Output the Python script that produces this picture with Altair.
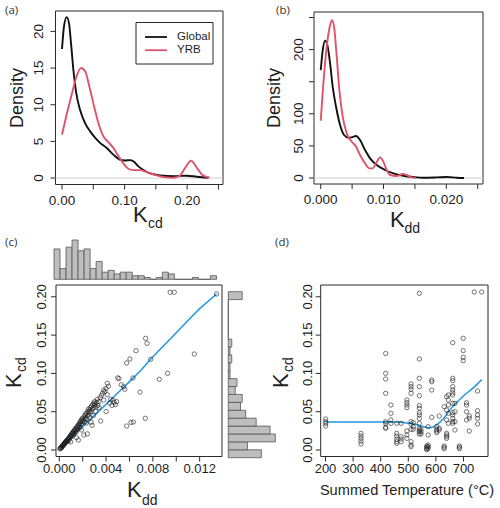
import altair as alt
import pandas as pd

W, H = 500, 508
FONT = "Liberation Sans"
INK = "#2b2b2b"
TXT = "#1e1e1e"
RED = "#DF536B"
BLUE = "#2297E6"
BAR_FILL = "#BEBEBE"
BAR_LINE = "#555555"

# ---------------- (a) kernel densities of Kcd ----------------
a_x_global = [0.0, 0.0032, 0.0075, 0.0112, 0.0144, 0.0181, 0.0224, 0.0288, 0.0368, 0.0448,
              0.0528, 0.0608, 0.0715, 0.0821, 0.0928, 0.1008, 0.1088, 0.1141, 0.1221, 0.1301,
              0.1408, 0.1568, 0.1781, 0.1995, 0.2155, 0.2341]
a_d_global = [17.6, 20.7, 21.95, 21.1, 18.4, 14.8, 11.8, 9.3, 7.5, 6.4,
              5.5, 4.8, 4.1, 3.2, 2.5, 2.4, 2.45, 2.3, 1.6, 1.1,
              0.63, 0.36, 0.27, 0.32, 0.18, 0.05]
a_x_yrb = [0.0, 0.0075, 0.0155, 0.0224, 0.0304, 0.0368, 0.0437, 0.0512, 0.0581, 0.0661,
           0.0741, 0.0821, 0.0901, 0.0981, 0.1061, 0.1141, 0.1248, 0.1355, 0.1461, 0.1568,
           0.1675, 0.1781, 0.1888, 0.1968, 0.2064, 0.2155, 0.2235, 0.2357]
a_d_yrb = [5.9, 8.7, 11.4, 13.65, 15.0, 14.6, 12.5, 9.8, 7.5, 5.7,
           4.9, 4.1, 3.0, 2.0, 1.27, 1.09, 1.09, 0.82, 0.5, 0.23,
           0.09, 0.05, 0.36, 1.4, 2.36, 1.4, 0.5, 0.05]

# ---------------- (b) kernel densities of Kdd ----------------
b_x_global = [0.0, 0.00032, 0.00069, 0.00106, 0.00149, 0.00191, 0.00244, 0.00308, 0.00372, 0.00441,
              0.00494, 0.00563, 0.00626, 0.00706, 0.00786, 0.00892, 0.01024, 0.01157, 0.01316, 0.01476,
              0.01635, 0.01847, 0.02006, 0.02166, 0.02282]
b_d_global = [168, 199, 214, 207, 179, 142, 111, 82.6, 67, 62.8,
              63.3, 65.4, 59.2, 43.6, 30.6, 20.2, 12.5, 7.3, 3.6, 1.6,
              0.5, 1.0, 1.6, 0.5, 0.0]
b_x_yrb = [0.0, 0.00042, 0.00096, 0.00149, 0.0018, 0.00212, 0.00255, 0.00297, 0.0035, 0.00414,
           0.00494, 0.00563, 0.00626, 0.00706, 0.00775, 0.00828, 0.00881, 0.00945, 0.00998, 0.01051,
           0.01104, 0.0121, 0.01306, 0.01369, 0.01449, 0.01513]
b_d_yrb = [89.3, 147, 204.6, 238, 246, 236, 189, 137, 95.5, 69.6,
           56.6, 48.8, 35.8, 22.8, 15, 15, 22.8, 32.2, 25.4, 12.5,
           4.7, 3.1, 6.2, 4.7, 1.0, 0.0]

# ---------------- (c) Kcd against Kdd ----------------
c_kdd = [0.00005, 0.0001, 0.00012, 0.00015, 0.0002, 0.00022, 0.00025, 0.0003, 0.00032, 0.00035,
         0.0004, 0.00042, 0.00045, 0.0005, 0.00048, 0.00055, 0.0006, 0.00062, 0.00065, 0.0007,
         0.00072, 0.00075, 0.0008, 0.00082, 0.00085, 0.0009, 0.00092, 0.00095, 0.001, 0.00098,
         0.00102, 0.00105, 0.0011, 0.00112, 0.00115, 0.0012, 0.00122, 0.00125, 0.0013, 0.00132,
         0.00135, 0.0014, 0.00142, 0.00145, 0.0015, 0.00148, 0.00155, 0.00158, 0.0016, 0.00163,
         0.00165, 0.0017, 0.00172, 0.00175, 0.0018, 0.00182, 0.00185, 0.0019, 0.00192, 0.00195,
         0.002, 0.0019, 0.00205, 0.0021, 0.00212, 0.00215, 0.0022, 0.00222, 0.00225, 0.0023,
         0.00232, 0.00235, 0.0024, 0.00242, 0.00245, 0.0025, 0.00248, 0.00255, 0.0026, 0.00262,
         0.00265, 0.0027, 0.00272, 0.00275, 0.0028, 0.0028, 0.00285, 0.0029, 0.00292, 0.00295,
         0.003, 0.00302, 0.00305, 0.0031, 0.00315, 0.0032, 0.00325, 0.0033, 0.0034, 0.0035,
         0.00354, 0.0034, 0.0036, 0.0037, 0.0038, 0.0038, 0.0039, 0.004, 0.004, 0.0041,
         0.0042, 0.0043, 0.0044, 0.0045, 0.0046, 0.0047, 0.0048, 0.0049, 0.005, 0.0051,
         0.0053, 0.0055, 0.0056, 0.0041, 0.00576, 0.00613, 0.00633, 0.00735, 0.0069, 0.0063,
         0.00576, 0.00604, 0.00656, 0.00738, 0.0075, 0.00781, 0.00855, 0.00926, 0.01154, 0.00948,
         0.00983, 0.01345]
c_kcd = [0.0015, 0.002, 0.003, 0.0025, 0.004, 0.0035, 0.005, 0.0055, 0.0062, 0.0068,
         0.0072, 0.008, 0.0085, 0.009, 0.0098, 0.0105, 0.011, 0.0118, 0.0125, 0.0112,
         0.0138, 0.0142, 0.015, 0.0122, 0.0162, 0.0158, 0.0178, 0.0185, 0.0172, 0.0105,
         0.0195, 0.0208, 0.0182, 0.0225, 0.0218, 0.0235, 0.02, 0.0248, 0.0255, 0.0222,
         0.0272, 0.0262, 0.0285, 0.0238, 0.0295, 0.016, 0.0312, 0.0272, 0.0302, 0.013,
         0.0332, 0.0322, 0.0352, 0.0292, 0.0365, 0.0335, 0.0382, 0.0345, 0.0402, 0.0372,
         0.0415, 0.0262, 0.0392, 0.0196, 0.0432, 0.0372, 0.0452, 0.0412, 0.0472, 0.0402,
         0.0352, 0.0482, 0.021, 0.0442, 0.0502, 0.0462, 0.0532, 0.0492, 0.0522, 0.0422,
         0.0552, 0.0502, 0.0362, 0.0572, 0.0532, 0.0322, 0.0592, 0.0552, 0.0452, 0.0612,
         0.0582, 0.0632, 0.0602, 0.0502, 0.0562, 0.0622, 0.0662, 0.0582, 0.0632, 0.0682,
         0.0379, 0.0552, 0.0712, 0.0742, 0.0782, 0.0652, 0.0762, 0.0802, 0.0502, 0.0722,
         0.0832, 0.0612, 0.0662, 0.0582, 0.0652, 0.0622, 0.0592, 0.0632, 0.0942, 0.0932,
         0.0852, 0.0826, 0.0792, 0.0872, 0.0313, 0.036, 0.0365, 0.0414, 0.0755, 0.094,
         0.1136, 0.1188, 0.1297, 0.1458, 0.1393, 0.1184, 0.0923, 0.1001, 0.1253, 0.2059,
         0.2059, 0.2037]
c_fit_kdd = [0.0001, 0.001, 0.002, 0.003, 0.004, 0.005, 0.006, 0.007, 0.0078, 0.009,
             0.010, 0.011, 0.012, 0.01345]
c_fit_kcd = [0.002, 0.0158, 0.0305, 0.0452, 0.0598, 0.0745, 0.0893, 0.1045, 0.1184, 0.1375,
             0.153, 0.169, 0.1845, 0.2037]

# marginal histograms (counts per bin)
kdd_bin_width = 0.0005
kdd_counts = [17, 6, 18, 22, 16, 17, 6, 10, 4, 5, 3, 4, 4, 2, 2, 1, 0, 1, 4, 3, 0, 0, 0, 1, 0, 0, 2]
kcd_bin_width = 0.01
kcd_counts = [19, 11, 27, 24, 16, 10, 7, 8, 4, 5, 1, 1, 2, 1, 2, 0, 0, 0, 0, 0, 8]

# ---------------- (d) Kcd against summed temperature ----------------
d_temp = ([200.6] * 4 + [328.6] * 5 + [418] * 8 + [437] * 4 + [458] * 6 + [474] * 4 +
          [495] * 7 + [510] * 10 + [518] * 3 + [540] * 15 + [546] * 3 + [567] * 4 +
          [572] * 5 + [585] * 4 + [603] * 4 + [612] * 3 + [630] * 4 + [639] * 7 +
          [645] * 5 + [661] * 13 + [669] * 4 + [685] * 3 + [699] * 4 + [711] * 4 +
          [721] * 3 + [739] + [751] * 5 + [766])
d_kcd = [0.0405, 0.037, 0.0348, 0.0313,
         0.0218, 0.0183, 0.0152, 0.0117, 0.0078,
         0.126, 0.1001, 0.0927, 0.074, 0.037, 0.0348, 0.0296, 0.0283,
         0.0587, 0.0479, 0.0392, 0.0348,
         0.0218, 0.0183, 0.014, 0.0109, 0.0087, 0.0348,
         0.0348, 0.0174, 0.0144, 0.0109,
         0.0653, 0.0618, 0.0587, 0.0553, 0.0248, 0.0196, 0.0152,
         0.0862, 0.0827, 0.0792, 0.074, 0.037, 0.0335, 0.027, 0.0109, 0.0065, 0.0044,
         0.0357, 0.0305, 0.027,
         0.2045, 0.1188, 0.0936, 0.0827, 0.0709, 0.0579, 0.0544, 0.0487, 0.0457, 0.0413,
         0.0348, 0.0283, 0.0261, 0.0239, 0.0209,
         0.027, 0.0239, 0.0209,
         0.0052, 0.0035, 0.0017, 0.0005,
         0.0305, 0.0196, 0.0065, 0.0044, 0.0022,
         0.0914, 0.0892, 0.0783, 0.0426,
         0.0305, 0.027, 0.0248, 0.0226,
         0.0444, 0.0283, 0.0261,
         0.0566, 0.0052, 0.0035, 0.0017,
         0.0696, 0.0522, 0.0392, 0.0218, 0.0196, 0.0174, 0.0152,
         0.0718, 0.0653, 0.0587, 0.0479, 0.0348,
         0.1401, 0.0936, 0.0905, 0.0827, 0.0783, 0.0748, 0.0718, 0.0609, 0.0487, 0.0457,
         0.0413, 0.037, 0.0348,
         0.0609, 0.05, 0.037, 0.0261,
         0.0052, 0.0035, 0.0017,
         0.1458, 0.1297, 0.121, 0.1166,
         0.0618, 0.0587, 0.05, 0.0392,
         0.0444, 0.0413, 0.0248,
         0.2063,
         0.077, 0.0513, 0.0457, 0.0413, 0.0339,
         0.2063]
d_fit_temp = [200.6, 250, 300, 350, 400, 450, 475, 500, 525, 550, 575, 590, 600, 625, 650,
              675, 700, 725, 750, 766]
d_fit_kcd = [0.0366, 0.0366, 0.0366, 0.0366, 0.0366, 0.0365, 0.0362, 0.035, 0.0335, 0.031,
             0.029, 0.030, 0.032, 0.040, 0.052, 0.062, 0.0705, 0.078, 0.086, 0.092]

# ---------------- tick values and their labels ----------------
a_xticks = [0, 0.05, 0.1, 0.15, 0.2, 0.25]
a_xlabels = ["0.00", "", "0.10", "", "0.20", ""]
a_yticks = [0, 5, 10, 15, 20]
a_ylabels = ["0", "5", "10", "15", "20"]
b_xticks = [0, 0.005, 0.01, 0.015, 0.02, 0.025]
b_xlabels = ["0.000", "", "0.010", "", "0.020", ""]
b_yticks = [0, 50, 100, 150, 200, 250]
b_ylabels = ["0", "50", "100", "", "200", ""]
c_xticks = [0, 0.002, 0.004, 0.006, 0.008, 0.01, 0.012]
c_xlabels = ["0.000", "", "0.004", "", "0.008", "", "0.012"]
kcd_ticks = [0, 0.05, 0.1, 0.15, 0.2]
kcd_labels = ["0.00", "0.05", "0.10", "0.15", "0.20"]
d_xticks = [200, 300, 400, 500, 600, 700]
d_xlabels = ["200", "300", "400", "500", "600", "700"]

series_names = ["Global", "YRB"]
color_scale = alt.Scale(domain=series_names, range=["#111111", RED])


def sc(domain, rng):
    return alt.Scale(domain=domain, range=rng, nice=False, zero=False)


def frame(xd, yd, sx, sy):
    df = pd.DataFrame({"x0": [xd[0]], "x1": [xd[1]], "y0": [yd[0]], "y1": [yd[1]]})
    return alt.Chart(df).mark_rect(filled=False, stroke=INK, strokeWidth=1).encode(
        x=alt.X("x0:Q", scale=sx, axis=None), x2="x1:Q",
        y=alt.Y("y0:Q", scale=sy, axis=None), y2="y1:Q")


def axes(sx, sy, xt, xl, x_edge, x_lab, yt, yl, y_edge, y_lab, size):
    """Ticks pointing out of the frame with labels; y labels read upwards."""
    xdf = pd.DataFrame({"v": xt, "lab": xl})
    ydf = pd.DataFrame({"v": yt, "lab": yl})
    return [
        alt.Chart(xdf).mark_rule(color=INK, strokeWidth=1).encode(
            x=alt.X("v:Q", scale=sx, axis=None),
            y=alt.value(x_edge), y2=alt.value(x_edge + 5)),
        alt.Chart(xdf).mark_text(font=FONT, fontSize=size, color=TXT,
                                 align="center", baseline="alphabetic").encode(
            x=alt.X("v:Q", scale=sx, axis=None), y=alt.value(x_lab), text="lab:N"),
        alt.Chart(ydf).mark_rule(color=INK, strokeWidth=1).encode(
            y=alt.Y("v:Q", scale=sy, axis=None),
            x=alt.value(y_edge - 5), x2=alt.value(y_edge)),
        alt.Chart(ydf).mark_text(font=FONT, fontSize=size, color=TXT, angle=270,
                                 align="center", baseline="alphabetic").encode(
            y=alt.Y("v:Q", scale=sy, axis=None), x=alt.value(y_lab), text="lab:N"),
    ]


def zero_line(xd, sx, sy):
    df = pd.DataFrame({"x0": [xd[0]], "x1": [xd[1]], "y": [0.0]})
    return alt.Chart(df).mark_rule(color="#cfcfcf", strokeWidth=1).encode(
        x=alt.X("x0:Q", scale=sx, axis=None), x2="x1:Q",
        y=alt.Y("y:Q", scale=sy, axis=None))


def density_lines(xg, dg, xy, dy, sx, sy):
    df = pd.concat([
        pd.DataFrame({"x": xg, "d": dg, "s": "Global"}),
        pd.DataFrame({"x": xy, "d": dy, "s": "YRB"}),
    ])
    return alt.Chart(df).mark_line(strokeWidth=1.9, interpolate="monotone").encode(
        x=alt.X("x:Q", scale=sx, axis=None),
        y=alt.Y("d:Q", scale=sy, axis=None),
        color=alt.Color("s:N", scale=color_scale, legend=None))


def text(label, x, y, size, angle=0, align="left", baseline="alphabetic",
         font=FONT, color=TXT):
    kw = dict(text=label, fontSize=size, font=font, color=color, align=align,
              baseline=baseline)
    if angle:
        kw["angle"] = angle
    return alt.Chart(pd.DataFrame({"t": [label]})).mark_text(**kw).encode(
        x=alt.value(x), y=alt.value(y))


def scatter(xs, ys, xname, sx, sy):
    return alt.Chart(pd.DataFrame({xname: xs, "kcd": ys})).mark_point(
        shape="circle", filled=False, size=19, strokeWidth=0.85, color="#1a1a1a").encode(
        x=alt.X(f"{xname}:Q", scale=sx, axis=None), y=alt.Y("kcd:Q", scale=sy, axis=None))


# ---- panel (a)
a_xd, a_yd = [-0.0104, 0.2573], [-0.876, 22.78]
a_sx, a_sy = sc(a_xd, [55.5, 223]), sc(a_yd, [184.5, 11])
panel_a = alt.layer(
    frame(a_xd, a_yd, a_sx, a_sy),
    *axes(a_sx, a_sy, a_xticks, a_xlabels, 184.5, 205, a_yticks, a_ylabels, 55.5, 43, 13.5),
    zero_line(a_xd, a_sx, a_sy),
    density_lines(a_x_global, a_d_global, a_x_yrb, a_d_yrb, a_sx, a_sy),
)

# ---- panel (b)
b_xd, b_yd = [-0.00107, 0.02584], [-9.3, 258.6]
b_sx, b_sy = sc(b_xd, [314, 483]), sc(b_yd, [184, 12])
panel_b = alt.layer(
    frame(b_xd, b_yd, b_sx, b_sy),
    *axes(b_sx, b_sy, b_xticks, b_xlabels, 184, 204, b_yticks, b_ylabels, 314, 302.5, 13.5),
    zero_line(b_xd, b_sx, b_sy),
    density_lines(b_x_global, b_d_global, b_x_yrb, b_d_yrb, b_sx, b_sy),
)

# ---- legend of (a)
legend_df = pd.DataFrame({"s": series_names})
legend_y = alt.Scale(type="point", domain=series_names, range=[37.0, 50.2], padding=0)
legend_box = alt.Chart(pd.DataFrame({"k": [0]})).mark_rect(
    filled=False, stroke=INK, strokeWidth=1).encode(
    x=alt.value(136), x2=alt.value(213), y=alt.value(22.5), y2=alt.value(64))
legend_keys = alt.Chart(legend_df).mark_rule(strokeWidth=1.8).encode(
    x=alt.value(145), x2=alt.value(167),
    y=alt.Y("s:N", scale=legend_y, axis=None),
    color=alt.Color("s:N", scale=color_scale, legend=None))
legend_labels = alt.Chart(legend_df).mark_text(
    align="left", baseline="middle", font=FONT, fontSize=11.5, color=TXT).encode(
    x=alt.value(177), y=alt.Y("s:N", scale=legend_y, axis=None), text="s:N")

# ---- panel (c)
c_xd, c_yd = [-0.00028, 0.01391], [-0.0085, 0.2154]
c_sx, c_sy = sc(c_xd, [56, 222]), sc(c_yd, [456.5, 285])
panel_c = alt.layer(
    frame(c_xd, c_yd, c_sx, c_sy),
    *axes(c_sx, c_sy, c_xticks, c_xlabels, 456.5, 472.5, kcd_ticks, kcd_labels, 56, 46, 13),
    alt.Chart(pd.DataFrame({"kdd": c_fit_kdd, "kcd": c_fit_kcd})).mark_line(
        color=BLUE, strokeWidth=1.5).encode(
        x=alt.X("kdd:Q", scale=c_sx, axis=None), y=alt.Y("kcd:Q", scale=c_sy, axis=None)),
    scatter(c_kdd, c_kcd, "kdd", c_sx, c_sy),
)

top_df = pd.DataFrame({
    "lo": [i * kdd_bin_width for i in range(len(kdd_counts))],
    "hi": [(i + 1) * kdd_bin_width for i in range(len(kdd_counts))],
    "n": kdd_counts, "base": 0,
})
hist_top = alt.Chart(top_df).mark_rect(fill=BAR_FILL, stroke=BAR_LINE, strokeWidth=0.8).encode(
    x=alt.X("lo:Q", scale=sc([0, len(kdd_counts) * kdd_bin_width], [54, 216.5]), axis=None),
    x2="hi:Q",
    y=alt.Y("n:Q", scale=sc([0, max(kdd_counts)], [279.3, 240]), axis=None),
    y2="base:Q")

right_df = pd.DataFrame({
    "lo": [i * kcd_bin_width for i in range(len(kcd_counts))],
    "hi": [(i + 1) * kcd_bin_width for i in range(len(kcd_counts))],
    "n": kcd_counts, "base": 0,
})
hist_right = alt.Chart(right_df).mark_rect(fill=BAR_FILL, stroke=BAR_LINE, strokeWidth=0.8).encode(
    y=alt.Y("lo:Q", scale=sc([0, len(kcd_counts) * kcd_bin_width], [457.7, 291.7]), axis=None),
    y2="hi:Q",
    x=alt.X("n:Q", scale=sc([0, max(kcd_counts)], [228.3, 275.3]), axis=None),
    x2="base:Q")

# ---- panel (d)
d_xd, d_yd = [182.6, 788.8], c_yd
d_sx, d_sy = sc(d_xd, [320.7, 488]), sc(d_yd, [456.5, 285])
panel_d = alt.layer(
    frame(d_xd, d_yd, d_sx, d_sy),
    *axes(d_sx, d_sy, d_xticks, d_xlabels, 456.5, 472.5, kcd_ticks, kcd_labels, 320.7, 312, 13),
    alt.Chart(pd.DataFrame({"t": d_fit_temp, "kcd": d_fit_kcd})).mark_line(
        color=BLUE, strokeWidth=1.5, interpolate="monotone").encode(
        x=alt.X("t:Q", scale=d_sx, axis=None), y=alt.Y("kcd:Q", scale=d_sy, axis=None)),
    scatter(d_temp, d_kcd, "t", d_sx, d_sy),
)

# ---- titles and panel tags
PANEL_FONT = "Open Sans"
annotations = [
    text("(a)", 5, 14, 11.5, font=PANEL_FONT, color="#333333"),
    text("(b)", 276, 14, 11.5, font=PANEL_FONT, color="#333333"),
    text("(c)", 5, 246, 11.5, font=PANEL_FONT, color="#333333"),
    text("(d)", 275, 246, 11.5, font=PANEL_FONT, color="#333333"),
    text("Density", 17.5, 98, 18, angle=270, align="center", baseline="middle"),
    text("Density", 275, 98, 18, angle=270, align="center", baseline="middle"),
    text("K", 133, 222, 22), text("cd", 148, 228, 14),
    text("K", 390, 227, 22), text("dd", 404.5, 233, 14),
    text("K", 127, 497, 22), text("dd", 142, 504.5, 14),
    text("K", 21, 388, 22, angle=270), text("cd", 25.5, 372, 14, angle=270),
    text("K", 288, 388, 22, angle=270), text("cd", 292.5, 372, 14, angle=270),
    text("Summed Temperature (°C)", 407, 495, 14.6, align="center"),
]

chart = alt.layer(
    panel_a, panel_b, legend_box, legend_keys, legend_labels,
    panel_c, hist_top, hist_right, panel_d, *annotations,
).resolve_scale(
    x="independent", y="independent"
).properties(
    width=W, height=H, padding=0, autosize=alt.AutoSizeParams(type="none"),
).configure_view(strokeWidth=0)

chart.save("out.html", embed_options={"renderer": "svg", "actions": False})
